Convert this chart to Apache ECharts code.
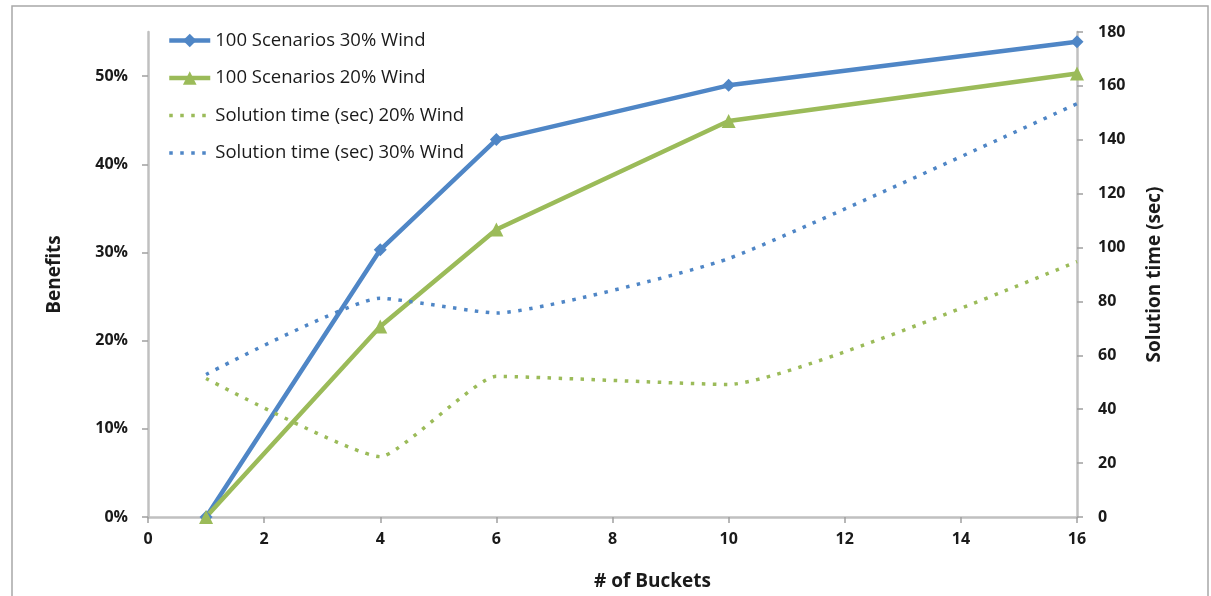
<!DOCTYPE html>
<html>
<head>
<meta charset="utf-8">
<script src="https://cdn.jsdelivr.net/npm/echarts@6/dist/echarts.min.js"></script>
<style>
html,body{margin:0;padding:0;background:#fff;}
#c{width:1211px;height:596px;}
</style>
</head>
<body>
<div id="c"></div>
<script>
// ---- data ----
const buckets = [1, 4, 6, 10, 16];
const benefits30 = [0, 30.3, 42.8, 48.95, 53.9];   // % benefits, 30% wind
const benefits20 = [0, 21.6, 32.6, 44.9, 50.3];    // % benefits, 20% wind
const time20 = [51.4, 22.4, 52.2, 49.2, 94.8];     // solution time (sec), 20% wind
const time30 = [52.9, 81.2, 75.7, 95.9, 153.4];    // solution time (sec), 30% wind
const seriesNames = [
  '100 Scenarios 30% Wind',
  '100 Scenarios 20% Wind',
  'Solution time (sec) 20% Wind',
  'Solution time (sec) 30% Wind'
];
const leftTicks = [0, 10, 20, 30, 40, 50];
const xName = '# of Buckets';
const leftName = 'Benefits';
const rightName = 'Solution time (sec)';

const pair = (xs, ys) => xs.map((x, i) => [x, ys[i]]);

const BLUE = '#4F86C6';
const GREEN = '#9BBB59';
const AXIS = '#c0c0c0';
const TICK = '#a0a0a0';
const TXT = '#1a1a1a';
const FONT = '"Open Sans", "Noto Sans", sans-serif';
const DOTS = [3.5, 7.5];

const chart = echarts.init(document.getElementById('c'), null, {renderer: 'canvas'});
chart.setOption({
  animation: false,
  backgroundColor: '#fff',
  graphic: [{
    type: 'rect',
    shape: {x: 12, y: 6, width: 1196, height: 600},
    style: {fill: 'none', stroke: '#a8a8a8', lineWidth: 1.5},
    silent: true
  }],
  grid: {left: 148, right: 134, top: 32, bottom: 74, containLabel: false},
  legend: {
    orient: 'vertical',
    left: 167,
    top: 31,
    padding: 0,
    itemWidth: 41,
    itemHeight: 17,
    itemGap: 18.5,
    data: [
      {name: seriesNames[0], lineStyle: {width: 4.5}},
      {name: seriesNames[1], lineStyle: {width: 4.5}},
      {name: seriesNames[2], lineStyle: {width: 3.5, type: DOTS}, itemStyle: {opacity: 0}},
      {name: seriesNames[3], lineStyle: {width: 3.5, type: DOTS}, itemStyle: {opacity: 0}}
    ],
    textStyle: {fontFamily: FONT, fontSize: 18.5, color: TXT, lineHeight: 17}
  },
  xAxis: {
    type: 'value',
    min: 0, max: 16, interval: 2,
    name: xName,
    nameLocation: 'middle',
    nameGap: 55,
    nameTextStyle: {fontFamily: FONT, fontSize: 19, fontWeight: 'bold', color: TXT, padding: [0, 0, 0, 80]},
    axisLine: {show: true, lineStyle: {color: AXIS, width: 2.5}},
    axisTick: {show: true, length: 6, lineStyle: {color: TICK, width: 1.5}},
    axisLabel: {margin: 14, fontFamily: FONT, fontSize: 16, fontWeight: 'bold', color: TXT},
    splitLine: {show: false}
  },
  yAxis: [{
    type: 'value',
    min: 0, max: 55,
    position: 'left',
    name: leftName,
    nameLocation: 'middle',
    nameGap: 84,
    nameRotate: 90,
    nameTextStyle: {fontFamily: FONT, fontSize: 19, fontWeight: 'bold', color: TXT},
    axisLine: {show: true, lineStyle: {color: AXIS, width: 2.5}},
    axisTick: {show: true, length: 6, customValues: leftTicks, lineStyle: {color: TICK, width: 1.5}},
    axisLabel: {customValues: leftTicks, formatter: '{value}%', margin: 20, fontFamily: FONT, fontSize: 16, fontWeight: 'bold', color: TXT},
    splitLine: {show: false}
  }, {
    type: 'value',
    min: 0, max: 180, interval: 20,
    position: 'right',
    name: rightName,
    nameLocation: 'middle',
    nameGap: 68,
    nameRotate: 90,
    nameTextStyle: {fontFamily: FONT, fontSize: 19, fontWeight: 'bold', color: TXT},
    axisLine: {show: true, lineStyle: {color: AXIS, width: 2.5}},
    axisTick: {show: true, length: 6, lineStyle: {color: TICK, width: 1.5}},
    axisLabel: {margin: 21, fontFamily: FONT, fontSize: 16, fontWeight: 'bold', color: TXT},
    splitLine: {show: false}
  }],
  series: [{
    name: seriesNames[0],
    type: 'line',
    yAxisIndex: 0,
    data: pair(buckets, benefits30),
    symbol: 'diamond',
    symbolSize: 13,
    lineStyle: {color: BLUE, width: 4.5},
    itemStyle: {color: BLUE}
  }, {
    name: seriesNames[1],
    type: 'line',
    yAxisIndex: 0,
    data: pair(buckets, benefits20),
    symbol: 'triangle',
    symbolSize: 14,
    lineStyle: {color: GREEN, width: 4.5},
    itemStyle: {color: GREEN}
  }, {
    name: seriesNames[2],
    type: 'line',
    yAxisIndex: 1,
    data: pair(buckets, time20),
    smooth: 0.15,
    symbol: 'none',
    lineStyle: {color: GREEN, width: 3.5, type: DOTS},
    itemStyle: {color: GREEN}
  }, {
    name: seriesNames[3],
    type: 'line',
    yAxisIndex: 1,
    data: pair(buckets, time30),
    smooth: 0.15,
    symbol: 'none',
    lineStyle: {color: BLUE, width: 3.5, type: DOTS},
    itemStyle: {color: BLUE}
  }]
});
</script>
</body>
</html>
